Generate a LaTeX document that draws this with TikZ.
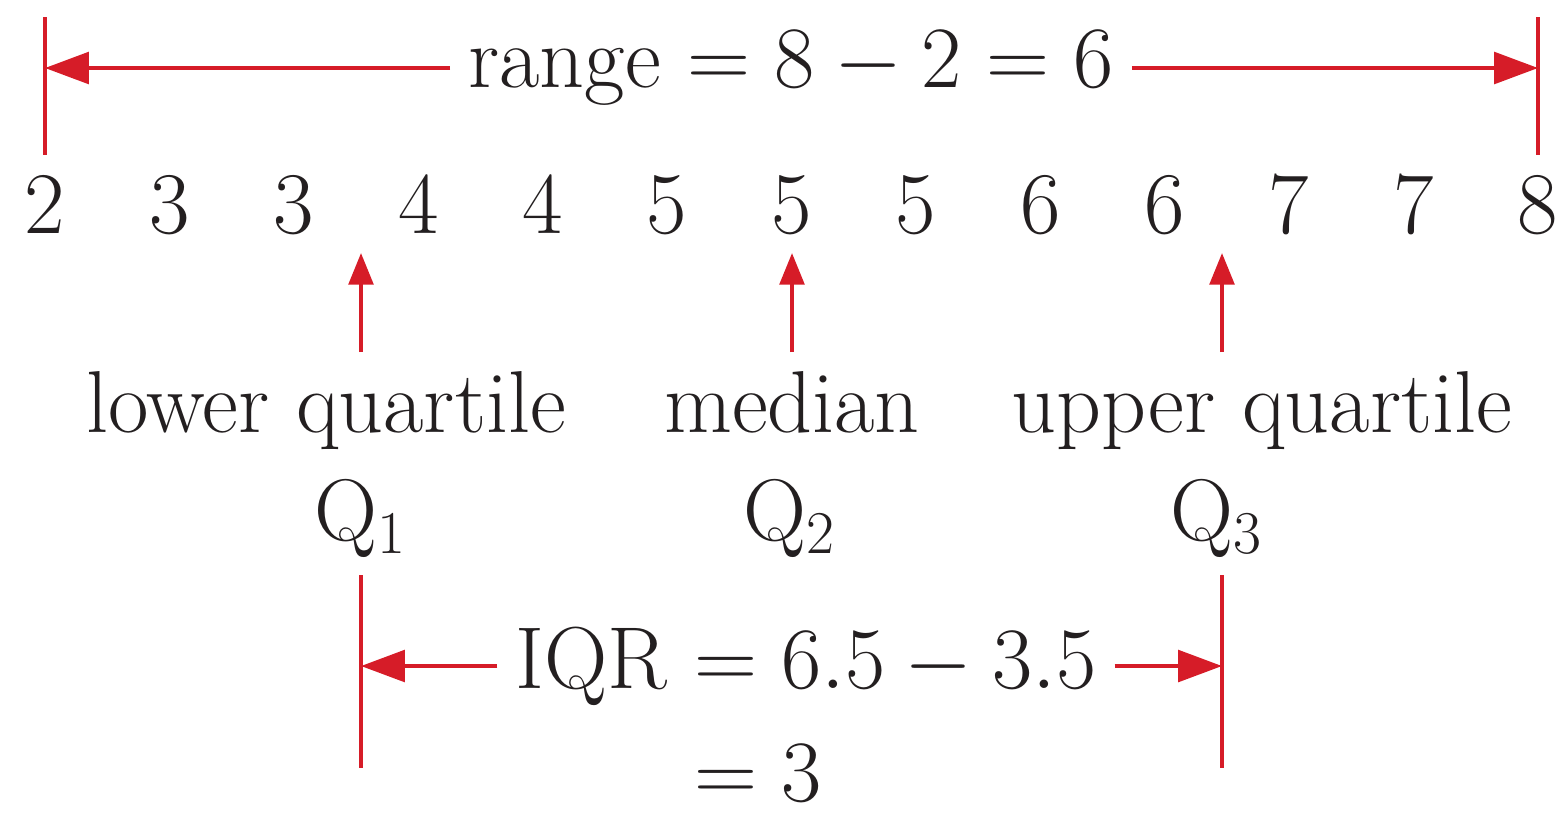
\documentclass[tikz,border=0pt]{standalone}
\usepackage{amsmath}
\usepackage{tikz}
\usetikzlibrary{arrows.meta,positioning,calc}
\definecolor{qred}{RGB}{214,28,40}
\definecolor{ink}{RGB}{35,31,32}

\begin{document}
\begin{tikzpicture}[
    x=0.01cm, y=-0.01cm,
    num/.style={font=\fontsize{25}{30}\selectfont, text=ink, anchor=base, inner sep=0pt},
    lbl/.style={font=\fontsize{25}{30}\selectfont, text=ink, anchor=base, inner sep=0pt},
    eqn/.style={font=\fontsize{25}{30}\selectfont, text=ink, inner sep=5pt},
    bar/.style={qred, line width=0.9pt},
    dim/.style={-{Triangle[length=12.5pt, width=9pt]}, qred, line width=1.1pt},
    pick/.style={-{Triangle[length=9pt, width=7pt]}, qred, line width=1.1pt}
]
    \useasboundingbox (0,0) rectangle (1561,817);

    % Ordered data
    \foreach \v [count=\i from 0] in {2,3,3,4,4,5,5,5,6,6,7,7,8}
        \node[num] (n\i) at (45+124.4*\i, 233) {\v};

    % Range bars and arrows
    \coordinate (rLt) at (45,17);   \coordinate (rLb) at (45,155);
    \coordinate (rRt) at (1538,17); \coordinate (rRb) at (1538,155);
    \draw[bar] (rLt) -- (rLb);
    \draw[bar] (rRt) -- (rRb);
    \node[eqn] (range) at (791,68) {range $= 8 - 2 = 6$};
    \draw[dim] (range.west) -- (range.west -| rLt);
    \draw[dim] (range.east) -- (range.east -| rRt);

    % Pointers to the quartiles
    \foreach \n/\x in {1/361, 2/792, 3/1222} {
        \coordinate (tip\n) at (\x,253);
        \coordinate (tail\n) at (\x,352);
        \draw[pick] (tail\n) -- (tip\n);
    }

    % Quartile labels
    \node[lbl] (lower) at (326,432) {lower quartile};
    \node[lbl] (median) at (792,432) {median};
    \node[lbl] (upper) at (1262,432) {upper quartile};
    \node[lbl] (q1) at (361,540) {$\mathrm{Q}_1$};
    \node[lbl] (q2) at (790,540) {$\mathrm{Q}_2$};
    \node[lbl] (q3) at (1217,540) {$\mathrm{Q}_3$};

    % IQR bars and arrows
    \coordinate (iLt) at (361,575);  \coordinate (iLb) at (361,768);
    \coordinate (iRt) at (1222,575); \coordinate (iRb) at (1222,768);
    \draw[bar] (iLt) -- (iLb);
    \draw[bar] (iRt) -- (iRb);
    \node[eqn] (iqr) at (806,666) {IQR $= 6.5 - 3.5$};
    \node[eqn, anchor=base west] (three) at ($(iqr.base west)+(0,113)$)
        {\phantom{IQR} $= 3$};
    \draw[dim] (iqr.west) -- (iqr.west -| iLt);
    \draw[dim] (iqr.east) -- (iqr.east -| iRt);

\end{tikzpicture}
\end{document}
